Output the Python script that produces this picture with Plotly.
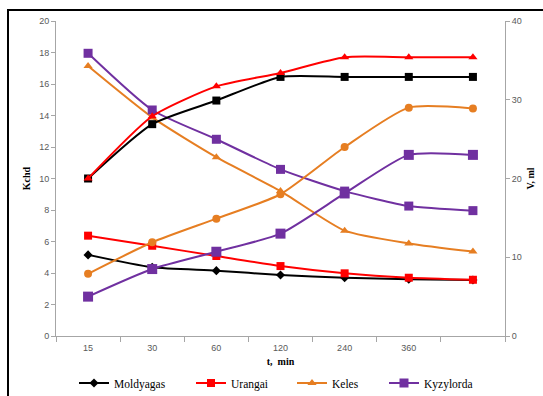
import plotly.graph_objects as go

categories = ["15", "30", "60", "120", "240", "360", " "]

# Kchd (left axis)
kchd_moldyagas = [5.15, 4.36, 4.15, 3.87, 3.7, 3.6, 3.56]
kchd_urangai = [6.37, 5.73, 5.08, 4.44, 3.98, 3.7, 3.57]
kchd_keles = [17.14, 13.88, 11.35, 9.2, 6.69, 5.88, 5.36]
kchd_kyzylorda = [17.95, 14.35, 12.49, 10.58, 9.2, 8.25, 7.96]

# V, ml (right axis)
v_moldyagas = [20.0, 26.9, 29.9, 32.9, 32.9, 32.9, 32.9]
v_urangai = [20.0, 27.9, 31.7, 33.4, 35.4, 35.4, 35.4]
v_keles = [7.9, 11.9, 14.9, 18.0, 24.0, 29.0, 28.9]
v_kyzylorda = [5.0, 8.5, 10.7, 13.0, 18.1, 23.0, 23.0]

names = ["Moldyagas", "Urangai", "Keles", "Kyzylorda"]
colors = ["#000000", "#FF0000", "#E67E22", "#7030A0"]
left_symbols = ["diamond", "square", "triangle-up", "square"]
left_sizes = [7, 8, 8, 9]
right_symbols = ["square", "triangle-up", "circle", "square"]
right_sizes = [8, 8, 8, 10]

left_data = [kchd_moldyagas, kchd_urangai, kchd_keles, kchd_kyzylorda]
right_data = [v_moldyagas, v_urangai, v_keles, v_kyzylorda]

legend_ids = ["legend", "legend2", "legend3", "legend4"]
legend_px = [74, 191, 292, 384]

W, H = 543, 396
L, R, T, B = 56, 38, 21, 60
pw = W - L - R
ph = H - T - B

fig = go.Figure()
for i in range(4):
    fig.add_trace(go.Scatter(
        x=categories, y=left_data[i], name=names[i], mode="lines+markers",
        line=dict(color=colors[i], width=2, shape="spline", smoothing=0.6),
        marker=dict(symbol=left_symbols[i], size=left_sizes[i], color=colors[i]),
        yaxis="y", legend=legend_ids[i], showlegend=True,
    ))
for i in range(4):
    fig.add_trace(go.Scatter(
        x=categories, y=right_data[i], name=names[i], mode="lines+markers",
        line=dict(color=colors[i], width=2, shape="spline", smoothing=0.6),
        marker=dict(symbol=right_symbols[i], size=right_sizes[i], color=colors[i]),
        yaxis="y2", showlegend=False,
    ))

serif = "Times New Roman, Liberation Serif, serif"
tickfont = dict(family="Liberation Sans, Arial, sans-serif", size=9, color="#595959")
titlefont = dict(family=serif, size=10, color="#000000")
legfont = dict(family=serif, size=11.5, color="#000000")

layout = dict(
    width=W, height=H,
    margin=dict(l=L, r=R, t=T, b=B, pad=0, autoexpand=False),
    paper_bgcolor="white", plot_bgcolor="white",
    font=dict(family=serif),
    xaxis=dict(
        type="category", categoryorder="array", categoryarray=categories,
        range=[-0.5, 6.5], tickson="boundaries", ticks="outside", ticklen=5,
        tickcolor="#A6A6A6", showline=True, linecolor="#A6A6A6", linewidth=1,
        showgrid=False, zeroline=False, tickfont=tickfont, automargin=False,
        ticklabelstandoff=3,
        title=dict(text="<b>t,  min</b>", font=titlefont, standoff=6),
    ),
    yaxis=dict(
        range=[0, 20], dtick=2, ticks="outside", ticklen=4, tickcolor="#A6A6A6",
        showline=True, linecolor="#A6A6A6", linewidth=1, showgrid=False,
        zeroline=False, tickfont=tickfont, automargin=False,
        title=dict(text="<b>Kchd</b>", font=titlefont, standoff=6),
    ),
    yaxis2=dict(
        range=[0, 40], dtick=10, overlaying="y", side="right", ticks="outside",
        ticklen=4, tickcolor="#A6A6A6", showline=True, linecolor="#A6A6A6",
        linewidth=1, showgrid=False, zeroline=False, tickfont=tickfont,
        automargin=False,
        title=dict(text="<b>V, ml</b>", font=titlefont, standoff=6),
    ),
    shapes=[dict(
        type="rect", xref="paper", yref="paper",
        x0=(8 - L) / pw, x1=(W + 5 - L) / pw,
        y0=(T + ph - (H + 5)) / ph, y1=(T + ph - 10) / ph,
        line=dict(color="#000000", width=2), fillcolor="rgba(0,0,0,0)", layer="below",
    )],
)
for i, lid in enumerate(legend_ids):
    layout[lid] = dict(
        orientation="h", xref="container", yref="container",
        x=legend_px[i] / W, xanchor="left",
        y=1 - 383 / H, yanchor="middle",
        bgcolor="rgba(0,0,0,0)", borderwidth=0,
        font=legfont,
    )
fig.update_layout(**layout)

fig.write_html("out.html")
